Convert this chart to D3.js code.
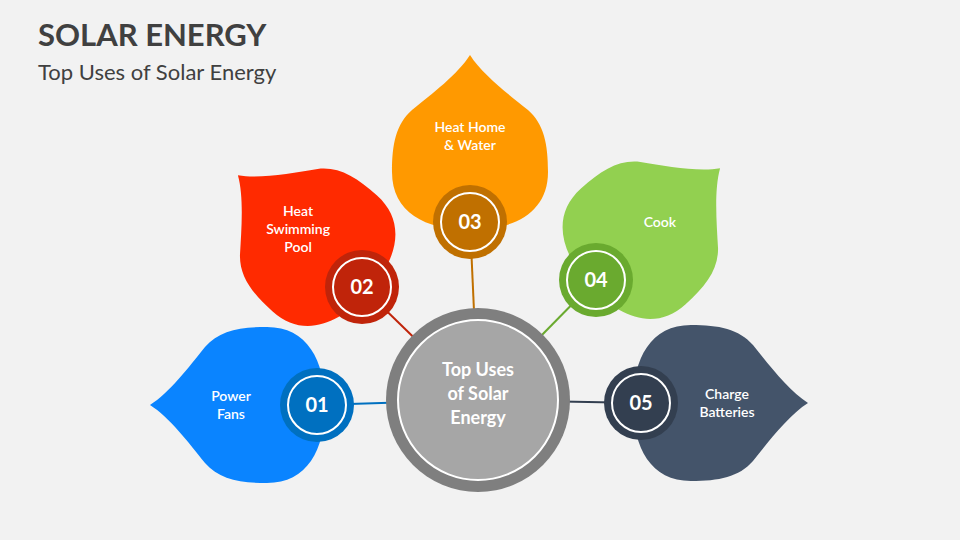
<!DOCTYPE html>
<html><head><meta charset="utf-8">
<script src="https://cdn.jsdelivr.net/npm/d3@7"></script>
<style>body{margin:0;background:#f2f2f2}svg{display:block}</style>
</head><body><svg width="960" height="540"></svg>
<script>
const numbers=["01","02","03","04","05"];
const labels=[["Power","Fans"],["Heat","Swimming","Pool"],["Heat Home","& Water"],["Cook"],["Charge","Batteries"]];
const petalColors=["#0a84ff","#ff2a00","#ff9900","#92d050","#44546a"];
const darkColors=["#0070c0","#c0240a","#c07000","#6aaa2f","#333f50"];
const angles=[180,-138,-90,-42,0];
const centers=[[317,405],[362,287],[470,222],[596,280],[641,403]];
const hub=[478,400];

const svg=d3.select("svg");
svg.append("rect").attr("width",960).attr("height",540).attr("fill","#f2f2f2");
svg.append("text").attr("x",38).attr("y",46).text("SOLAR ENERGY")
 .attr("font-family","Lato").attr("font-weight","bold").attr("font-size",31).attr("fill","#404040");
svg.append("text").attr("x",38).attr("y",80).text("Top Uses of Solar Energy")
 .attr("font-family","Lato").attr("font-size",22).attr("fill","#404040");

const petal="M167,0 C148,12 128,38 112,58 C98,74 78,78 50,78 C10,78 -8,45 -8,0 C-8,-45 10,-78 50,-78 C78,-78 98,-74 112,-58 C128,-38 148,-12 167,0 Z";
const lineG=svg.append("g"), petG=svg.append("g");
numbers.forEach((n,i)=>{
  const [cx,cy]=centers[i];
  lineG.append("line").attr("x1",cx).attr("y1",cy).attr("x2",hub[0]).attr("y2",hub[1])
    .attr("stroke",darkColors[i]).attr("stroke-width",2);
  const g=petG.append("g").attr("transform",`translate(${cx},${cy}) rotate(${angles[i]})`);
  g.append("path").attr("d",petal).attr("fill",petalColors[i]);
  const rad=angles[i]*Math.PI/180, d=86;
  const lx=cx+d*Math.cos(rad), ly=cy+d*Math.sin(rad);
  const t=petG.append("text").attr("x",lx).attr("text-anchor","middle").attr("fill","#fff")
    .attr("font-family","Lato").attr("font-size",14).attr("font-weight","600");
  const lh=18, y0=ly-(labels[i].length-1)*lh/2+5;
  labels[i].forEach((s,k)=>t.append("tspan").attr("x",lx).attr("y",y0+k*lh).text(s));
});
const cg=svg.append("g");
numbers.forEach((n,i)=>{
  const [cx,cy]=centers[i];
  cg.append("circle").attr("cx",cx).attr("cy",cy).attr("r",37).attr("fill",darkColors[i]);
  cg.append("circle").attr("cx",cx).attr("cy",cy).attr("r",29).attr("fill",darkColors[i]).attr("stroke","#fff").attr("stroke-width",2);
  cg.append("text").attr("x",cx).attr("y",cy+7).attr("text-anchor","middle").attr("fill","#fff")
    .attr("font-family","Lato").attr("font-weight","bold").attr("font-size",20).text(n);
});
svg.append("circle").attr("cx",hub[0]).attr("cy",hub[1]).attr("r",92).attr("fill","#7f7f7f");
svg.append("circle").attr("cx",hub[0]).attr("cy",hub[1]).attr("r",80).attr("fill","#a6a6a6").attr("stroke","#fff").attr("stroke-width",2);
const ct=svg.append("text").attr("text-anchor","middle").attr("fill","#fff")
 .attr("font-family","Lato").attr("font-weight","bold").attr("font-size",18);
["Top Uses","of Solar","Energy"].forEach((s,k)=>ct.append("tspan").attr("x",hub[0]).attr("y",376+k*24).text(s));
</script></body></html>
